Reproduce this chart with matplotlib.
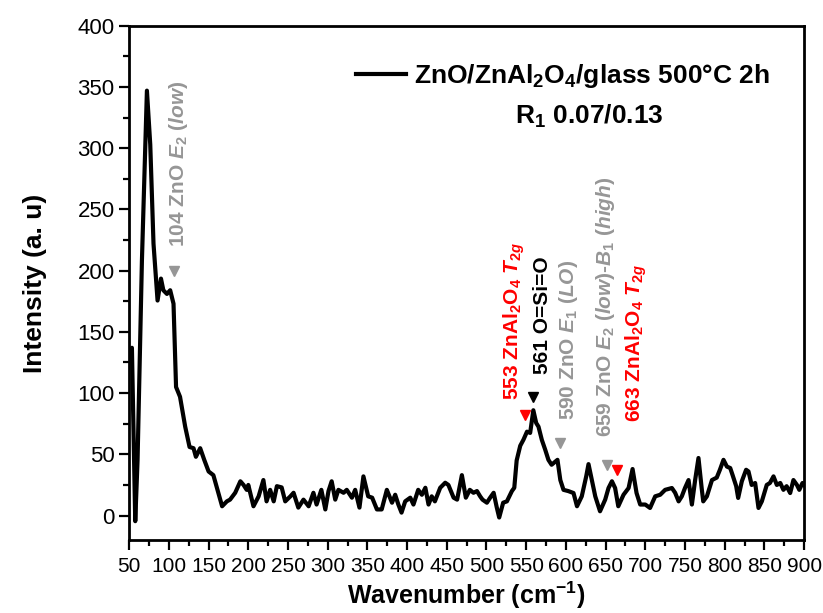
import numpy as np
import matplotlib.pyplot as plt
from matplotlib.ticker import MultipleLocator

plt.rcParams['font.family'] = ['Liberation Sans', 'DejaVu Sans']
plt.rcParams['font.weight'] = 'bold'
plt.rcParams['mathtext.fontset'] = 'custom'
plt.rcParams['mathtext.rm'] = 'Liberation Sans:bold'
plt.rcParams['mathtext.bf'] = 'Liberation Sans:bold'
plt.rcParams['mathtext.it'] = 'Liberation Sans:italic:bold'
plt.rcParams['mathtext.default'] = 'rm'

# Raman spectrum
wavenumber = [50, 53.4, 57.6, 60.5, 66, 72.3, 76.5, 80.6, 85.7, 90, 93, 97.5, 101.6,
              105.8, 109, 114, 120.5, 126, 131, 134, 139.4, 144.5, 150, 156, 167,
              173, 177, 183.5, 190, 194, 198, 200, 206.5, 213, 219, 223, 227.5, 232,
              236, 242, 246.5, 253, 257, 263, 269.5, 276, 282, 286, 292, 297, 301,
              305, 309.5, 313.5, 320, 324, 330.5, 334.6, 340, 345, 351, 356, 362,
              368, 374.5, 381, 385, 389, 393, 397.6, 404, 408, 414, 418.6, 423, 427,
              431, 435, 441.7, 448, 452, 458.6, 463, 469, 474, 479, 483.6, 488, 492,
              495, 500.5, 504.6, 509, 513, 516, 521, 525.7, 532, 535, 538, 542.5,
              546.6, 551, 555, 559, 562.6, 565.5, 569.7, 574, 578, 582, 586.5, 589.4,
              593, 597, 603, 609.6, 614, 620, 625.6, 628.5, 632.7, 637, 643, 649.5,
              653.7, 658, 662, 666, 672.6, 679, 684, 689, 693.6, 700, 706, 712.5,
              718.8, 725, 733.5, 737.6, 742, 746, 750, 754.5, 758.7, 762.8, 767, 771,
              773, 777.6, 784, 790, 794, 798.5, 802.8, 807, 810, 814.5, 817, 821.6,
              827, 830, 834, 838.4, 842.6, 846.8, 853, 857, 861.5, 865.7, 870, 874,
              878, 882.5, 886.6, 891, 894, 898, 900]
intensity = [130, 137, -4.6, 45, 208, 347, 303, 222, 175.6, 193.5, 184, 181, 184,
             173, 105, 97, 72.6, 56, 55, 48, 55, 45.5, 36, 33, 7.6,
             11.6, 13, 18.6, 28, 25, 21, 25, 7.6, 15.7, 29, 11.6, 21, 11.6,
             24, 23, 11.6, 15.7, 18.6, 6.5, 13, 7.6, 18.6, 9, 21, 5, 20,
             28, 13, 21, 18.6, 21, 14.6, 21, 6.5, 32, 15.7, 14.6, 5,
             5, 21, 10.5, 17, 9, 2.4, 11.6, 14.6, 9, 21, 17, 22.7, 9,
             15.7, 11.6, 22.7, 26.8, 25, 14.6, 13, 33, 14.6, 21, 18.6, 20, 15.7,
             13, 10.5, 14.6, 18.6, 6.5, -1.6, 10.5, 11.6, 20, 22.7, 45, 57,
             62, 68.5, 67.5, 86, 75.6, 72.6, 61.8, 53.7, 45.5, 41.5, 44, 45.5,
             29, 21, 20, 18.4, 7.6, 15.7, 32, 42, 29, 15.7, 3.5, 13,
             22.5, 28, 22.5, 7.6, 17, 22.5, 38, 18.4, 9, 9, 6.2, 15.7,
             17, 21, 22.5, 18.6, 11.6, 15.7, 22.5, 29, 9, 29, 47, 22.5,
             11.6, 15.7, 29, 31, 37.4, 45.5, 40, 38.8, 33, 24, 14.4, 28,
             37.4, 36, 25, 26.6, 6.2, 11.6, 25, 26.6, 32, 25, 26.6, 21,
             24, 18.4, 29, 25, 21, 26.6, 25]

# peak assignments: label, marker position, text anchor, colour
peak_labels = ['104 ZnO $\\mathit{E}_{\\mathit{2}}$ $\\mathit{(low)}$',
               '553 ZnAl$_2$O$_4$ $\\mathit{T}_{\\mathit{2g}}$',
               '561 O=Si=O',
               '590 ZnO $\\mathit{E}_{\\mathit{1}}$ $\\mathit{(LO)}$',
               '659 ZnO $\\mathit{E}_{\\mathit{2}}$ $\\mathit{(low)}$-$\\mathit{B}_{\\mathit{1}}$ $\\mathit{(high)}$',
               '663 ZnAl$_2$O$_4$ $\\mathit{T}_{\\mathit{2g}}$']
peak_x = [106, 548, 559, 593, 652, 664]
peak_y = [200, 82, 97, 59, 41.5, 37]
text_x = [112, 535, 571, 603, 650, 688]
text_y = [219, 94, 116, 78, 64, 76]
peak_colors = ['#969696', '#ff0000', '#000000', '#969696', '#969696', '#ff0000']

fig = plt.figure(figsize=(8.23, 6.13), dpi=100)
ax = fig.add_axes([0.157, 0.119, 0.820, 0.839])

ax.plot(wavenumber, intensity, color='black', lw=3,
        label='ZnO/ZnAl$_2$O$_4$/glass 500°C 2h')

for lab, px, py, tx, ty, c in zip(peak_labels, peak_x, peak_y, text_x, text_y, peak_colors):
    ax.plot(px, py, marker='v', color=c, ms=7, ls='none')
    ax.text(tx, ty, lab, rotation=90, ha='center', va='bottom', color=c,
            fontsize=15, fontweight='bold')

ax.set_xlim(50, 900)
ax.set_ylim(-20, 400)
ax.xaxis.set_major_locator(MultipleLocator(50))
ax.xaxis.set_minor_locator(MultipleLocator(25))
ax.yaxis.set_major_locator(MultipleLocator(50))
ax.yaxis.set_minor_locator(MultipleLocator(25))
ax.tick_params(which='major', length=7, width=1.6, direction='out')
ax.tick_params(which='minor', length=4, width=1.6, direction='out')
ax.tick_params(axis='y', labelsize=16)
ax.tick_params(axis='x', labelsize=15, pad=5)
for lbl in ax.get_yticklabels():
    lbl.set_fontweight('normal')
for lbl in ax.get_xticklabels():
    lbl.set_fontweight('normal')
    lbl.set_family(['Liberation Sans Narrow', 'Liberation Sans'])
for s in ax.spines.values():
    s.set_linewidth(2)

ax.set_xlabel('Wavenumber (cm$^{-1}$)', fontsize=18, fontweight='bold', labelpad=3)
ax.set_ylabel('Intensity (a. u)', fontsize=19, fontweight='bold', labelpad=22)

leg = ax.legend(loc='upper right', bbox_to_anchor=(0.985, 0.975), frameon=False,
                fontsize=19, handlelength=1.9, handletextpad=0.3)
ax.text(0.682, 0.823, 'R$_1$ 0.07/0.13', transform=ax.transAxes, ha='center',
        va='center', fontsize=19, fontweight='bold')

fig.savefig('out.png', dpi=100)
